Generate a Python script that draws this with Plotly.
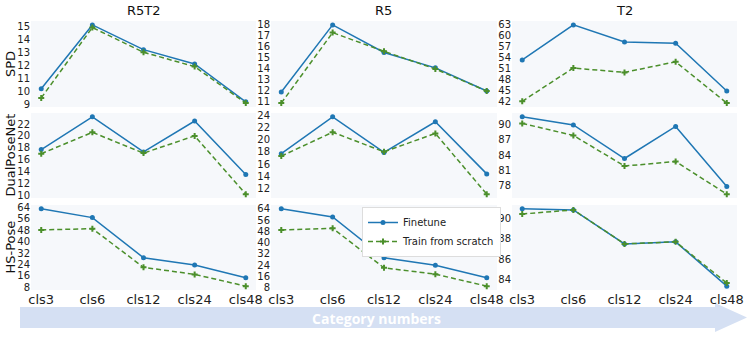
import plotly.graph_objects as go
from plotly.subplots import make_subplots

# categories and panel labels
classes = ["cls3", "cls6", "cls12", "cls24", "cls48"]
datasets = ["R5T2", "R5", "T2"]
methods = ["SPD", "DualPoseNet", "HS-Pose"]

# SPD
spd_r5t2_ft = [10.2, 15.1, 13.2, 12.1, 9.2]
spd_r5t2_sc = [9.5, 14.9, 13.0, 11.9, 9.1]
spd_r5_ft = [11.9, 18.0, 15.5, 14.1, 12.0]
spd_r5_sc = [10.9, 17.3, 15.6, 14.0, 12.0]
spd_t2_ft = [53.4, 63.0, 58.3, 58.0, 44.9]
spd_t2_sc = [42.1, 51.2, 50.0, 52.9, 41.6]

# DualPoseNet
dpn_r5t2_ft = [17.7, 23.2, 17.3, 22.5, 13.5]
dpn_r5t2_sc = [17.0, 20.6, 17.1, 20.0, 10.2]
dpn_r5_ft = [17.7, 23.7, 17.9, 22.9, 14.4]
dpn_r5_sc = [17.3, 21.2, 18.0, 21.0, 11.1]
dpn_t2_ft = [91.6, 90.0, 83.3, 89.7, 77.7]
dpn_t2_sc = [90.3, 87.9, 81.8, 82.7, 76.2]

# HS-Pose
hsp_r5t2_ft = [62.8, 56.7, 28.7, 23.6, 14.8]
hsp_r5t2_sc = [48.1, 49.0, 22.0, 17.1, 8.9]
hsp_r5_ft = [64.0, 58.3, 29.2, 24.0, 15.0]
hsp_r5_sc = [49.0, 50.2, 22.1, 17.6, 9.1]
hsp_t2_ft = [90.9, 90.8, 87.5, 87.7, 83.4]
hsp_t2_sc = [90.4, 90.8, 87.5, 87.7, 83.7]

# y ticks per panel (start, stop, step)
yticks = [
    [(9, 15, 1), (11, 18, 1), (42, 63, 3)],
    [(10, 22, 2), (12, 24, 2), (78, 90, 3)],
    [(8, 64, 8), (8, 64, 8), (84, 90, 2)],
]

panels = [
    [(spd_r5t2_ft, spd_r5t2_sc), (spd_r5_ft, spd_r5_sc), (spd_t2_ft, spd_t2_sc)],
    [(dpn_r5t2_ft, dpn_r5t2_sc), (dpn_r5_ft, dpn_r5_sc), (dpn_t2_ft, dpn_t2_sc)],
    [(hsp_r5t2_ft, hsp_r5t2_sc), (hsp_r5_ft, hsp_r5_sc), (hsp_t2_ft, hsp_t2_sc)],
]

W, H = 747, 340
BLUE = "#1f77b4"
GREEN = "#4b8f2b"
FONT = "DejaVu Sans"

def px_x(x):
    return x / W

def px_y(y):
    return 1 - y / H

col_px = [(31, 256), (271, 497), (512, 737)]
row_px = [(21, 107), (113, 198), (205, 290)]

fig = make_subplots(rows=3, cols=3)

for r in range(3):
    for c in range(3):
        ft, sc = panels[r][c]
        first = (r == 0 and c == 0)
        fig.add_trace(go.Scatter(x=classes, y=ft, mode="lines+markers", name="Finetune",
                                 line=dict(color=BLUE, width=1.5),
                                 marker=dict(symbol="circle", size=5, color=BLUE),
                                 showlegend=first, legendrank=1), row=r + 1, col=c + 1)
        fig.add_trace(go.Scatter(x=classes, y=sc, mode="lines+markers", name="Train from scratch",
                                 line=dict(color=GREEN, width=1.5, dash="5px,3px"),
                                 marker=dict(symbol="cross", size=5, color=GREEN),
                                 showlegend=first, legendrank=2), row=r + 1, col=c + 1)

        lo = min(ft + sc)
        hi = max(ft + sc)
        pad = (hi - lo) * 0.05
        t0, t1, st = yticks[r][c]
        tv = list(range(t0, t1 + 1, st))
        fig.update_yaxes(range=[lo - pad, hi + pad], tickvals=tv, automargin=False,
                         showgrid=False, zeroline=False, showline=False,
                         ticks="", ticklen=0,
                         tickfont=dict(family=FONT, size=10, color="#222"),
                         domain=[px_y(row_px[r][1]), px_y(row_px[r][0])],
                         row=r + 1, col=c + 1)
        fig.update_xaxes(range=[-0.2, 4.2], type="category", automargin=False,
                         showgrid=False, zeroline=False, showline=False,
                         showticklabels=(r == 2), ticks="",
                         tickfont=dict(family=FONT, size=13, color="#222"),
                         domain=[px_x(col_px[c][0]), px_x(col_px[c][1])],
                         row=r + 1, col=c + 1)

annotations = []
# column titles
for c, name in enumerate(datasets):
    annotations.append(dict(text=name, x=px_x((col_px[c][0] + col_px[c][1]) / 2), y=px_y(10),
                            xref="paper", yref="paper", showarrow=False,
                            xanchor="center", yanchor="middle",
                            font=dict(family=FONT, size=13, color="#111")))
# row labels
for r, name in enumerate(methods):
    annotations.append(dict(text=name, x=px_x(10), y=px_y((row_px[r][0] + row_px[r][1]) / 2),
                            xref="paper", yref="paper", showarrow=False, textangle=-90,
                            xanchor="center", yanchor="middle",
                            font=dict(family=FONT, size=13, color="#111")))
# arrow text
annotations.append(dict(text="<b>Category numbers</b>", x=px_x(377), y=px_y(318),
                        xref="paper", yref="paper", showarrow=False,
                        xanchor="center", yanchor="middle",
                        font=dict(family="Open Sans", size=14, color="white")))

# big arrow under the panels
pts = [(20, 307), (715, 307), (715, 303), (747, 317.5), (715, 332), (715, 328), (20, 328)]
path = "M " + " L ".join(f"{px_x(x):.5f} {px_y(y):.5f}" for x, y in pts) + " Z"
shapes = [dict(type="path", path=path, xref="paper", yref="paper",
               fillcolor="#d5e0f3", line=dict(width=0), layer="below")]

fig.update_layout(
    width=W, height=H,
    margin=dict(l=0, r=0, t=0, b=0, autoexpand=False),
    paper_bgcolor="white",
    plot_bgcolor="#f6f8fb",
    annotations=annotations,
    shapes=shapes,
    legend=dict(x=px_x(362), y=px_y(207), xanchor="left", yanchor="top",
                bgcolor="white", bordercolor="#dddddd", borderwidth=1,
                font=dict(family=FONT, size=10, color="#222"),
                tracegroupgap=0, itemwidth=30),
    showlegend=True,
)

# page has a default body margin; drop it so the figure sits at the top-left corner
fig.write_html("out.html", config={"displayModeBar": False},
               post_script="document.body.style.margin='0';")
